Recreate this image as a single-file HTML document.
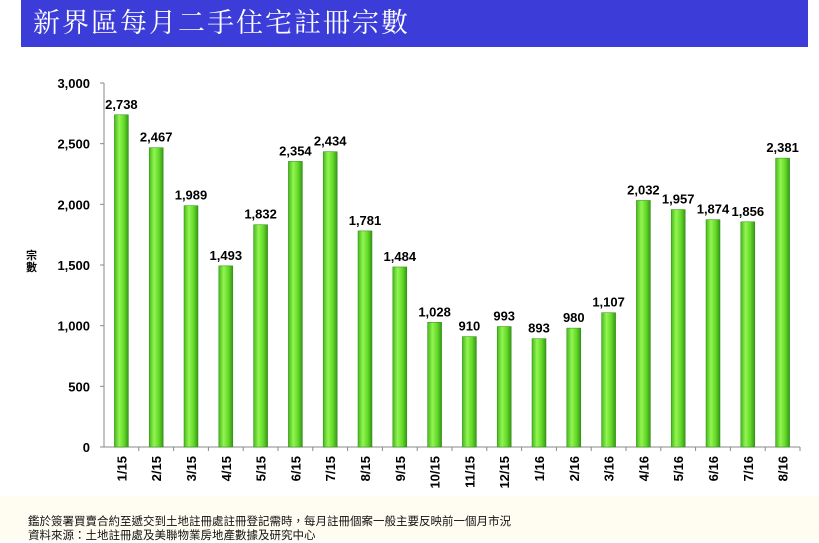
<!DOCTYPE html>
<html><head><meta charset="utf-8"><style>
body{margin:0;width:819px;height:540px;background:#fff;overflow:hidden;position:relative;font-family:"Liberation Sans","Noto Sans CJK TC",sans-serif}
.title{position:absolute;left:21px;top:0;width:787px;height:47px;background:#3c3cd8;color:#fff;font-family:"Liberation Sans","Noto Serif CJK SC","Noto Sans CJK TC",serif;font-size:27px;line-height:46px;padding-left:12px;box-sizing:border-box;letter-spacing:2px}
.foot{position:absolute;left:0;top:496px;width:819px;height:44px;background:#fffdf2}
.ft{position:absolute;left:28px;font-size:11.5px;color:#111}
.yl{position:absolute;left:26px;top:250px;font-size:11px;font-weight:bold;line-height:12px;width:12px}
</style></head><body>
<div class="title">新界區每月二手住宅註冊宗數</div>
<div class="foot"></div>
<div class="ft" style="top:513px">鑑於簽署買賣合約至遞交到土地註冊處註冊登記需時，每月註冊個案一般主要反映前一個月市況</div>
<div class="ft" style="top:527px">資料來源：土地註冊處及美聯物業房地產數據及研究中心</div>
<div class="yl">宗<br>數</div>
<svg width="819" height="540" style="position:absolute;left:0;top:0" font-family="Liberation Sans, sans-serif">
<defs><linearGradient id="g" x1="0" x2="1"><stop offset="0" stop-color="#46b81c"/><stop offset="0.35" stop-color="#92f552"/><stop offset="0.7" stop-color="#62d826"/><stop offset="1" stop-color="#35961a"/></linearGradient></defs>
<g stroke="#888" stroke-width="1">
<line x1="104" y1="83" x2="104" y2="447"/>
<line x1="104" y1="447" x2="800" y2="447"/>
</g>
<g id="c"></g>
</svg>
<script>
var d=[2738,2467,1989,1493,1832,2354,2434,1781,1484,1028,910,993,893,980,1107,2032,1957,1874,1856,2381];
var l=["1/15","2/15","3/15","4/15","5/15","6/15","7/15","8/15","9/15","10/15","11/15","12/15","1/16","2/16","3/16","4/16","5/16","6/16","7/16","8/16"];
var s="",y0=447,k=364/3000,w=34.8;
for(var v=0;v<=3000;v+=500){var y=y0-v*k;s+='<line x1="100" y1="'+y+'" x2="104" y2="'+y+'" stroke="#888"/><text x="90" y="'+(y+5)+'" font-size="13" font-weight="bold" text-anchor="end">'+v.toLocaleString("en-US")+'</text>';}
d.forEach(function(v,i){var cx=104+w*i+w/2,h=v*k;
s+='<line x1="'+(104+w*(i+1))+'" y1="447" x2="'+(104+w*(i+1))+'" y2="451" stroke="#888"/>';
s+='<rect x="'+(cx-7)+'" y="'+(y0-h)+'" width="14" height="'+h+'" fill="url(#g)" stroke="#2d8a10" stroke-width="0.5"/>';
s+='<text x="'+cx+'" y="'+(y0-h-6)+'" font-size="13" font-weight="bold" text-anchor="middle">'+v.toLocaleString("en-US")+'</text>';
s+='<text x="'+(cx+5)+'" y="456" font-size="13" font-weight="bold" text-anchor="end" transform="rotate(-90 '+(cx+5)+' 456)">'+l[i]+'</text>';});
document.getElementById("c").innerHTML=s;
</script>
</body></html>
